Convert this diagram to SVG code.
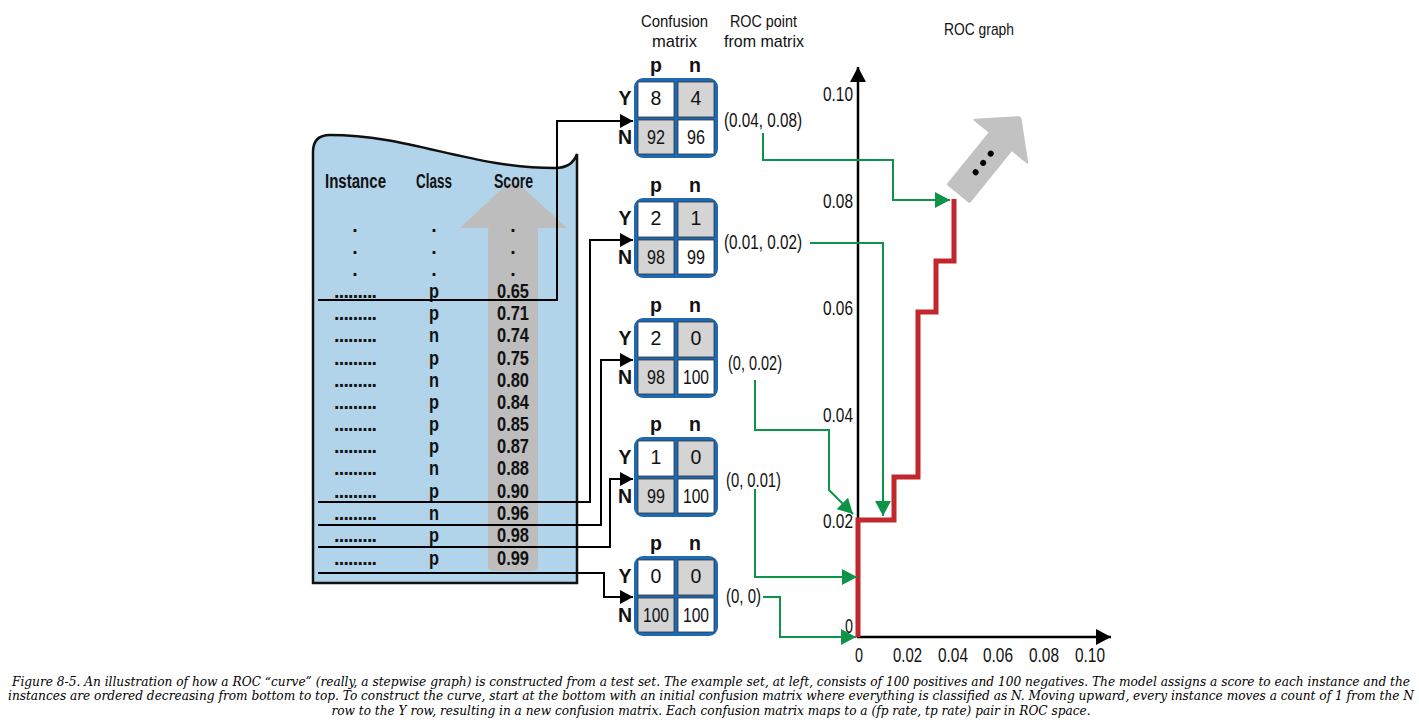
<svg xmlns="http://www.w3.org/2000/svg" width="1419" height="723" viewBox="0 0 1419 723">
<style>
.t{font-family:'Liberation Sans Narrow','Liberation Sans',Arial,sans-serif;font-size:19.5px;fill:#111}
.h{font-family:'Liberation Sans Narrow','Liberation Sans',Arial,sans-serif;font-size:17px;fill:#111}
.b{font-weight:bold}
.m{text-anchor:middle}
.e{text-anchor:end}
.blk{fill:none;stroke:#000;stroke-width:2}
.grn{fill:none;stroke:#0e9447;stroke-width:2}
.cap{font-family:'DejaVu Serif Condensed','DejaVu Serif',serif;font-style:italic;font-size:12px;fill:#000;text-anchor:middle}
.frame{fill:#1d69b2}
.w{fill:#fff;stroke:#333;stroke-width:0.8}
.g{fill:#d4d4d4;stroke:#333;stroke-width:0.8}
</style>
<defs>
<marker id="ab" markerUnits="userSpaceOnUse" markerWidth="14" markerHeight="14" refX="13" refY="7" orient="auto"><path d="M0,0 L13,7 L0,14 z" fill="#000"/></marker>
<marker id="ag" markerUnits="userSpaceOnUse" markerWidth="16" markerHeight="16" refX="15" refY="8" orient="auto"><path d="M0,0 L15,8 L0,16 z" fill="#0e9447"/></marker>
<marker id="ax" markerUnits="userSpaceOnUse" markerWidth="16" markerHeight="16" refX="15" refY="8" orient="auto"><path d="M0,0 L15,8 L0,16 z" fill="#000"/></marker>
<g id="mat">
<rect x="0" y="0" width="84" height="80" rx="9" class="frame"/>
<rect x="4" y="4" width="36" height="35" class="w"/>
<rect x="44" y="4" width="36" height="35" class="g"/>
<rect x="4" y="42" width="36" height="34" class="g"/>
<rect x="44" y="42" width="36" height="34" class="w"/>
</g>
</defs>
<rect width="1419" height="723" fill="#fff"/>

<g id="table">
<path d="M313,583 V152 Q313,135 330,135 C410,135 470,168 555,168 Q572,168 577,154 V583 Z" fill="#b1d4ea" stroke="#111" stroke-width="2.5"/>
<rect x="488" y="226" width="50" height="345" rx="5" fill="#bdbdbd"/>
<path d="M460,228 L508,183 H518 L567,228 Z" fill="#bdbdbd"/>
<text class="t b" x="325" y="188" textLength="61" lengthAdjust="spacingAndGlyphs">Instance</text>
<text class="t b" x="416" y="188" textLength="36" lengthAdjust="spacingAndGlyphs">Class</text>
<text class="t b" x="494" y="188" textLength="39" lengthAdjust="spacingAndGlyphs">Score</text>
<g class="t b m">
<text x="355" y="232">.</text><text x="434" y="232">.</text><text x="513" y="232">.</text>
<text x="355" y="254">.</text><text x="434" y="254">.</text><text x="513" y="254">.</text>
<text x="355" y="276">.</text><text x="434" y="276">.</text><text x="513" y="276">.</text>
</g>
<g class="t b">
<text x="334" y="298" textLength="43" lengthAdjust="spacing">.........</text>
<text x="334" y="320" textLength="43" lengthAdjust="spacing">.........</text>
<text x="334" y="342" textLength="43" lengthAdjust="spacing">.........</text>
<text x="334" y="365" textLength="43" lengthAdjust="spacing">.........</text>
<text x="334" y="387" textLength="43" lengthAdjust="spacing">.........</text>
<text x="334" y="409" textLength="43" lengthAdjust="spacing">.........</text>
<text x="334" y="431" textLength="43" lengthAdjust="spacing">.........</text>
<text x="334" y="453" textLength="43" lengthAdjust="spacing">.........</text>
<text x="334" y="475" textLength="43" lengthAdjust="spacing">.........</text>
<text x="334" y="498" textLength="43" lengthAdjust="spacing">.........</text>
<text x="334" y="520" textLength="43" lengthAdjust="spacing">.........</text>
<text x="334" y="542" textLength="43" lengthAdjust="spacing">.........</text>
<text x="334" y="565" textLength="43" lengthAdjust="spacing">.........</text>
</g>
<g class="t b">
<text x="429" y="298" textLength="10" lengthAdjust="spacingAndGlyphs">p</text><text x="497" y="298" textLength="32" lengthAdjust="spacingAndGlyphs">0.65</text>
<text x="429" y="320" textLength="10" lengthAdjust="spacingAndGlyphs">p</text><text x="497" y="320" textLength="32" lengthAdjust="spacingAndGlyphs">0.71</text>
<text x="429" y="342" textLength="10" lengthAdjust="spacingAndGlyphs">n</text><text x="497" y="342" textLength="32" lengthAdjust="spacingAndGlyphs">0.74</text>
<text x="429" y="365" textLength="10" lengthAdjust="spacingAndGlyphs">p</text><text x="497" y="365" textLength="32" lengthAdjust="spacingAndGlyphs">0.75</text>
<text x="429" y="387" textLength="10" lengthAdjust="spacingAndGlyphs">n</text><text x="497" y="387" textLength="32" lengthAdjust="spacingAndGlyphs">0.80</text>
<text x="429" y="409" textLength="10" lengthAdjust="spacingAndGlyphs">p</text><text x="497" y="409" textLength="32" lengthAdjust="spacingAndGlyphs">0.84</text>
<text x="429" y="431" textLength="10" lengthAdjust="spacingAndGlyphs">p</text><text x="497" y="431" textLength="32" lengthAdjust="spacingAndGlyphs">0.85</text>
<text x="429" y="453" textLength="10" lengthAdjust="spacingAndGlyphs">p</text><text x="497" y="453" textLength="32" lengthAdjust="spacingAndGlyphs">0.87</text>
<text x="429" y="475" textLength="10" lengthAdjust="spacingAndGlyphs">n</text><text x="497" y="475" textLength="32" lengthAdjust="spacingAndGlyphs">0.88</text>
<text x="429" y="498" textLength="10" lengthAdjust="spacingAndGlyphs">p</text><text x="497" y="498" textLength="32" lengthAdjust="spacingAndGlyphs">0.90</text>
<text x="429" y="520" textLength="10" lengthAdjust="spacingAndGlyphs">n</text><text x="497" y="520" textLength="32" lengthAdjust="spacingAndGlyphs">0.96</text>
<text x="429" y="542" textLength="10" lengthAdjust="spacingAndGlyphs">p</text><text x="497" y="542" textLength="32" lengthAdjust="spacingAndGlyphs">0.98</text>
<text x="429" y="565" textLength="10" lengthAdjust="spacingAndGlyphs">p</text><text x="497" y="565" textLength="32" lengthAdjust="spacingAndGlyphs">0.99</text>
</g>
</g>

<g id="headers">
<text class="h" x="641" y="27" textLength="67" lengthAdjust="spacingAndGlyphs">Confusion</text>
<text class="h" x="652" y="47" textLength="45" lengthAdjust="spacingAndGlyphs">matrix</text>
<text class="h" x="730" y="27" textLength="67" lengthAdjust="spacingAndGlyphs">ROC point</text>
<text class="h" x="724" y="47" textLength="80" lengthAdjust="spacingAndGlyphs">from matrix</text>
<text class="h" x="944" y="35" textLength="70" lengthAdjust="spacingAndGlyphs">ROC graph</text>
</g>

<g id="matrix1">
<use href="#mat" x="634" y="78"/>
<text class="t b m" x="656" y="72">p</text><text class="t b m" x="695" y="72">n</text>
<text class="t b m" x="625" y="105">Y</text><text class="t b m" x="625" y="144">N</text>
<text class="t m" x="656" y="105">8</text><text class="t m" x="696" y="105">4</text>
<text class="t" x="647" y="144" textLength="18" lengthAdjust="spacingAndGlyphs">92</text><text class="t" x="687" y="144" textLength="18" lengthAdjust="spacingAndGlyphs">96</text>
</g>
<g id="matrix2">
<use href="#mat" x="634" y="198"/>
<text class="t b m" x="656" y="192">p</text><text class="t b m" x="695" y="192">n</text>
<text class="t b m" x="625" y="225">Y</text><text class="t b m" x="625" y="264">N</text>
<text class="t m" x="656" y="225">2</text><text class="t m" x="696" y="225">1</text>
<text class="t" x="647" y="264" textLength="18" lengthAdjust="spacingAndGlyphs">98</text><text class="t" x="687" y="264" textLength="18" lengthAdjust="spacingAndGlyphs">99</text>
</g>
<g id="matrix3">
<use href="#mat" x="634" y="318"/>
<text class="t b m" x="656" y="312">p</text><text class="t b m" x="695" y="312">n</text>
<text class="t b m" x="625" y="345">Y</text><text class="t b m" x="625" y="384">N</text>
<text class="t m" x="656" y="345">2</text><text class="t m" x="696" y="345">0</text>
<text class="t" x="647" y="384" textLength="18" lengthAdjust="spacingAndGlyphs">98</text><text class="t" x="683" y="384" textLength="26" lengthAdjust="spacingAndGlyphs">100</text>
</g>
<g id="matrix4">
<use href="#mat" x="634" y="437"/>
<text class="t b m" x="656" y="431">p</text><text class="t b m" x="695" y="431">n</text>
<text class="t b m" x="625" y="464">Y</text><text class="t b m" x="625" y="503">N</text>
<text class="t m" x="656" y="464">1</text><text class="t m" x="696" y="464">0</text>
<text class="t" x="647" y="503" textLength="18" lengthAdjust="spacingAndGlyphs">99</text><text class="t" x="683" y="503" textLength="26" lengthAdjust="spacingAndGlyphs">100</text>
</g>
<g id="matrix5">
<use href="#mat" x="634" y="556"/>
<text class="t b m" x="656" y="550">p</text><text class="t b m" x="695" y="550">n</text>
<text class="t b m" x="625" y="583">Y</text><text class="t b m" x="625" y="622">N</text>
<text class="t m" x="656" y="583">0</text><text class="t m" x="696" y="583">0</text>
<text class="t" x="643" y="622" textLength="26" lengthAdjust="spacingAndGlyphs">100</text><text class="t" x="683" y="622" textLength="26" lengthAdjust="spacingAndGlyphs">100</text>
</g>

<g id="rocpoints">
<text class="t" x="724" y="127" textLength="78" lengthAdjust="spacingAndGlyphs">(0.04, 0.08)</text>
<text class="t" x="724" y="249" textLength="78" lengthAdjust="spacingAndGlyphs">(0.01, 0.02)</text>
<text class="t" x="728" y="370" textLength="54" lengthAdjust="spacingAndGlyphs">(0, 0.02)</text>
<text class="t" x="726" y="487" textLength="55" lengthAdjust="spacingAndGlyphs">(0, 0.01)</text>
<text class="t" x="726" y="603" textLength="35" lengthAdjust="spacingAndGlyphs">(0, 0)</text>
</g>

<g id="rocgraph">
<line x1="858" y1="638" x2="858" y2="67" stroke="#000" stroke-width="2.5" marker-end="url(#ax)"/>
<line x1="857" y1="637" x2="1111" y2="637" stroke="#000" stroke-width="2.5" marker-end="url(#ax)"/>
<g class="t">
<text x="823" y="101" textLength="30" lengthAdjust="spacingAndGlyphs">0.10</text>
<text x="823" y="208" textLength="30" lengthAdjust="spacingAndGlyphs">0.08</text>
<text x="823" y="315" textLength="30" lengthAdjust="spacingAndGlyphs">0.06</text>
<text x="823" y="422" textLength="30" lengthAdjust="spacingAndGlyphs">0.04</text>
<text x="823" y="528" textLength="30" lengthAdjust="spacingAndGlyphs">0.02</text>
<text x="845" y="633" textLength="8" lengthAdjust="spacingAndGlyphs">0</text>
</g>
<g class="t">
<text x="855" y="662" textLength="8" lengthAdjust="spacingAndGlyphs">0</text>
<text x="893" y="662" textLength="29" lengthAdjust="spacingAndGlyphs">0.02</text>
<text x="938" y="662" textLength="30" lengthAdjust="spacingAndGlyphs">0.04</text>
<text x="983" y="662" textLength="30" lengthAdjust="spacingAndGlyphs">0.06</text>
<text x="1029" y="662" textLength="30" lengthAdjust="spacingAndGlyphs">0.08</text>
<text x="1075" y="662" textLength="30" lengthAdjust="spacingAndGlyphs">0.10</text>
</g>
<path d="M858,637 V520 H894 V477 H918 V312 H936 V261 H954 V199" fill="none" stroke="#c1272d" stroke-width="5"/>
<g transform="translate(958,194) rotate(39)">
<rect x="-15" y="-70" width="30" height="70" rx="2" fill="#c2c2c2"/>
<path d="M-34,-68 L34,-68 L1,-98 L-1,-98 Z" fill="#c2c2c2" stroke="#c2c2c2" stroke-width="2" stroke-linejoin="round"/>
<circle cx="0" cy="-28" r="3" fill="#000"/>
<circle cx="0" cy="-40" r="3" fill="#000"/>
<circle cx="0" cy="-52" r="3" fill="#000"/>
</g>
</g>

<g id="connectors">
<path class="blk" d="M318,300 H557 V121 H633" marker-end="url(#ab)"/>
<path class="blk" d="M318,502 H590 V240 H633" marker-end="url(#ab)"/>
<path class="blk" d="M318,525 H601 V360 H633" marker-end="url(#ab)"/>
<path class="blk" d="M318,547 H610 V479 H633" marker-end="url(#ab)"/>
<path class="blk" d="M318,573 H604 V597 H633" marker-end="url(#ab)"/>
<path class="grn" d="M763,133 V160 H893 V200 H950" marker-end="url(#ag)"/>
<path class="grn" d="M810,243 H883 V516" marker-end="url(#ag)"/>
<path class="grn" d="M755,380 V430 H829 V490 L853,514" marker-end="url(#ag)"/>
<path class="grn" d="M755,489 V577 H857" marker-end="url(#ag)"/>
<path class="grn" d="M763,597 H780 V637 H856" marker-end="url(#ag)"/>
</g>

<g id="caption">
<text class="cap" x="711" y="686" textLength="1398" lengthAdjust="spacingAndGlyphs">Figure 8-5. An illustration of how a ROC “curve” (really, a stepwise graph) is constructed from a test set. The example set, at left, consists of 100 positives and 100 negatives. The model assigns a score to each instance and the</text>
<text class="cap" x="711" y="700" textLength="1406" lengthAdjust="spacingAndGlyphs">instances are ordered decreasing from bottom to top. To construct the curve, start at the bottom with an initial confusion matrix where everything is classified as N. Moving upward, every instance moves a count of 1 from the N</text>
<text class="cap" x="711" y="715" textLength="759" lengthAdjust="spacingAndGlyphs">row to the Y row, resulting in a new confusion matrix. Each confusion matrix maps to a (fp rate, tp rate) pair in ROC space.</text>
</g>
</svg>
